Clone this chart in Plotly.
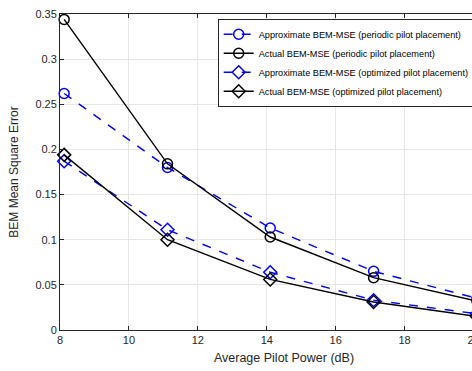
import plotly.graph_objects as go

# Data
pilot_power = [8.12, 11.12, 14.1, 17.1, 20.1]
approx_periodic = [0.262, 0.180, 0.113, 0.065, 0.035]
actual_periodic = [0.344, 0.184, 0.103, 0.058, 0.032]
approx_optimized = [0.187, 0.111, 0.064, 0.033, 0.018]
actual_optimized = [0.194, 0.100, 0.056, 0.031, 0.015]

series_names = [
    "Approximate BEM-MSE (periodic pilot placement)",
    "Actual BEM-MSE (periodic pilot placement)",
    "Approximate BEM-MSE (optimized pilot placement)",
    "Actual BEM-MSE (optimized pilot placement)",
]
x_ticks = [8, 10, 12, 14, 16, 18, 20]
y_ticks = [0, 0.05, 0.1, 0.15, 0.2, 0.25, 0.3, 0.35]
y_tick_text = ["0", "0.05", "0.1", "0.15", "0.2", "0.25", "0.3", "0.35"]

font = "Liberation Sans, Arial, sans-serif"
fig = go.Figure()

styles = [
    (approx_periodic, "#0000ff", "dash", "circle-open", 10),
    (actual_periodic, "#000000", "solid", "circle-open", 10),
    (approx_optimized, "#0000ff", "dash", "diamond-open", 10),
    (actual_optimized, "#000000", "solid", "diamond-open", 10),
]
for (vals, col, dash, sym, sz), name in zip(styles, series_names):
    fig.add_trace(go.Scatter(
        x=pilot_power, y=vals, name=name, mode="lines+markers",
        line=dict(color=col, width=1.4, dash=dash),
        marker=dict(symbol=sym, size=sz, color=col, line=dict(width=1.5, color=col)),
        cliponaxis=False,
    ))

fig.update_layout(
    width=530, height=371,
    margin=dict(l=60, r=21.5, t=8, b=41),
    paper_bgcolor="white", plot_bgcolor="white",
    font=dict(family=font, size=11, color="#262626"),
    showlegend=True,
    legend=dict(
        x=0.352, y=0.985, xanchor="left", yanchor="top",
        bgcolor="white", bordercolor="#262626", borderwidth=1,
        font=dict(family=font, size=9.2, color="#000000"),
        tracegroupgap=0, itemwidth=30,
    ),
)
fig.update_xaxes(
    range=[8, 21], tickvals=x_ticks,
    showgrid=True, gridcolor="#e6e6e6", gridwidth=1,
    showline=True, linecolor="#262626", linewidth=1, mirror="ticks",
    ticks="inside", ticklen=4, tickcolor="#262626",
    zeroline=False,
    title=dict(text="Average Pilot Power (dB)", standoff=8,
               font=dict(family=font, size=12.5, color="#262626")),
)
fig.update_yaxes(
    range=[0, 0.35], tickvals=y_ticks, ticktext=y_tick_text,
    showgrid=True, gridcolor="#e6e6e6", gridwidth=1,
    showline=True, linecolor="#262626", linewidth=1, mirror="ticks",
    ticks="inside", ticklen=4, tickcolor="#262626",
    zeroline=False,
    title=dict(text="BEM Mean Square Error", standoff=14,
               font=dict(family=font, size=12, color="#262626")),
)

fig.write_html("out.html")
